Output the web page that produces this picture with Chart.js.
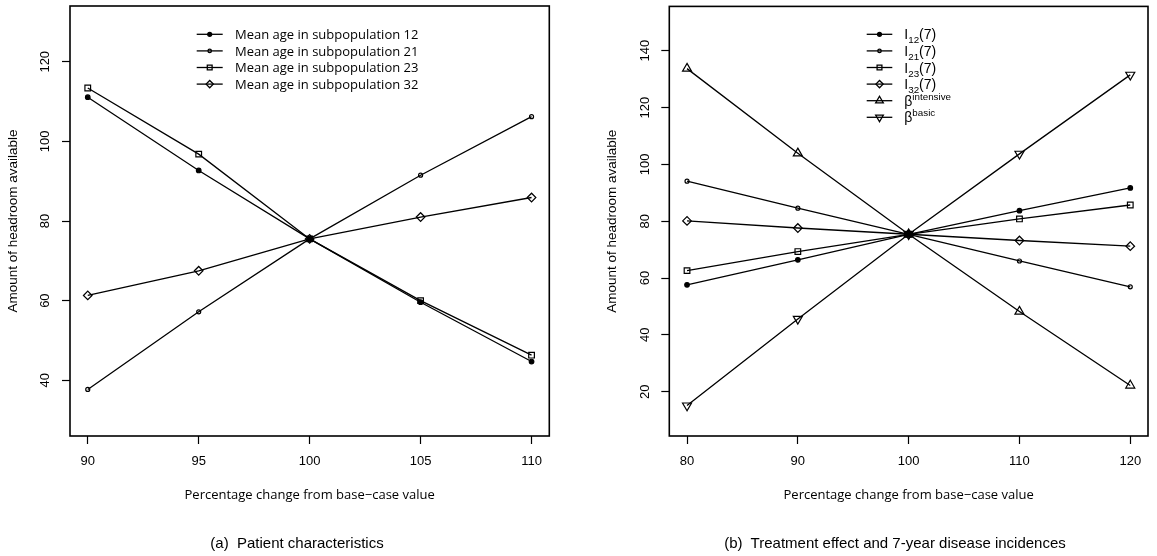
<!DOCTYPE html>
<html>
<head>
<meta charset="utf-8">
<title>Headroom sensitivity</title>
<script src="https://cdn.jsdelivr.net/npm/chart.js@4/dist/chart.umd.min.js"></script>
<style>
  body { margin: 0; background: #fff; width: 1157px; height: 556px; position: relative; overflow: hidden; }
  .panel { position: absolute; top: 0; height: 556px; }
  #wrapA { left: 0; width: 575px; }
  #wrapB { left: 578px; width: 579px; }
  .caption { position: absolute; top: 534px; line-height: 18px; font: 15px "Liberation Sans", Arial, sans-serif;
             color: #000; white-space: pre; transform: translateX(-50%); }
</style>
</head>
<body>
<div class="panel" id="wrapA"><canvas id="chartA" width="575" height="556"></canvas></div>
<div class="panel" id="wrapB"><canvas id="chartB" width="579" height="556"></canvas></div>
<div class="caption" style="left:297px">(a)  Patient characteristics</div>
<div class="caption" style="left:895px">(b)  Treatment effect and 7-year disease incidences</div>
<script>
// (a) patient characteristics
const pctA = [90, 95, 100, 105, 110];
const age12 = [111.1, 92.7, 75.5, 59.6, 44.7];
const age21 = [37.7, 57.2, 75.5, 91.5, 106.2];
const age23 = [113.4, 96.8, 75.5, 60.0, 46.3];
const age32 = [61.3, 67.5, 75.5, 81.0, 85.9];
const namesA = ['Mean age in subpopulation 12', 'Mean age in subpopulation 21',
                'Mean age in subpopulation 23', 'Mean age in subpopulation 32'];
const yTicksA = [40, 60, 80, 100, 120];
const ylimA = [30, 130];

// (b) treatment effect and 7-year incidences
const pctB = [80, 90, 100, 110, 120];
const inc12 = [57.6, 66.4, 75.4, 83.7, 91.7];
const inc21 = [94.1, 84.6, 75.4, 66.0, 56.9];
const inc23 = [62.6, 69.3, 75.4, 80.8, 85.7];
const inc32 = [80.1, 77.6, 75.4, 73.2, 71.2];
const betaInt = [133.7, 103.9, 75.4, 48.2, 22.2];
const betaBasic = [15.1, 45.6, 75.4, 103.7, 131.5];
const namesB = ['I_{12}(7)', 'I_{21}(7)', 'I_{23}(7)', 'I_{32}(7)', 'β^{intensive}', 'β^{basic}'];
const yTicksB = [20, 40, 60, 80, 100, 120, 140];
const ylimB = [10, 150];

const xTitle = 'Percentage change from base\u2212case value';
const yTitle = 'Amount of headroom available';

// plotting symbols, roughly like R's pch 20, 1, 0, 5, 2, 6
const symbols = [
  { pointStyle: 'circle', pointRadius: 2.3, pointBackgroundColor: '#000' },
  { pointStyle: 'circle', pointRadius: 2.0, pointBackgroundColor: 'rgba(0,0,0,0)' },
  { pointStyle: 'rect', pointRadius: 4.0, pointBackgroundColor: 'rgba(0,0,0,0)' },
  { pointStyle: 'rectRot', pointRadius: 4.3, pointBackgroundColor: 'rgba(0,0,0,0)' },
  { pointStyle: 'triangle', pointRadius: 5.2, pointBackgroundColor: 'rgba(0,0,0,0)' },
  { pointStyle: 'triangle', pointRadius: 5.2, pointRotation: 180, pointBackgroundColor: 'rgba(0,0,0,0)' }
];

// R-style axis range: 4% added on both sides
function extend(lo, hi) {
  const d = (hi - lo) * 0.04;
  return [lo - d, hi + d];
}

function parseLabel(s) {
  const parts = [];
  const re = /([_^])\{([^}]*)\}/g;
  let last = 0, m;
  while ((m = re.exec(s))) {
    if (m.index > last) parts.push({ t: s.slice(last, m.index), k: '' });
    parts.push({ t: m[2], k: m[1] });
    last = re.lastIndex;
  }
  if (last < s.length) parts.push({ t: s.slice(last), k: '' });
  return parts;
}

const boxPlugin = {
  id: 'plotBox',
  afterDraw(chart) {
    const { ctx, chartArea: a } = chart;
    ctx.save();
    ctx.strokeStyle = '#000';
    ctx.lineWidth = 1.6;
    ctx.strokeRect(a.left, a.top, a.right - a.left, a.bottom - a.top);
    ctx.restore();
  }
};

const keyPlugin = {
  id: 'lineKey',
  afterDraw(chart, args, o) {
    const ctx = chart.ctx;
    chart.data.datasets.forEach((ds, i) => {
      const y = o.y0 + i * o.dy;
      ctx.save();
      ctx.strokeStyle = '#000';
      ctx.lineWidth = 1.3;
      ctx.beginPath();
      ctx.moveTo(o.x0, y);
      ctx.lineTo(o.x0 + o.len, y);
      ctx.stroke();
      ctx.fillStyle = ds.pointBackgroundColor;
      Chart.helpers.drawPoint(ctx, {
        pointStyle: ds.pointStyle, rotation: ds.pointRotation || 0,
        radius: ds.pointRadius * 0.85, borderWidth: 1.2
      }, o.x0 + o.len / 2, y);

      ctx.fillStyle = '#000';
      ctx.textBaseline = 'alphabetic';
      let x = o.tx;
      const base = y + o.size * 0.36;
      parseLabel(ds.label).forEach(p => {
        const sz = p.k ? o.size * 0.7 : o.size;
        ctx.font = sz + 'px ' + o.family;
        const dy = p.k === '_' ? 4 : (p.k === '^' ? -6 : 0);
        ctx.fillText(p.t, x, base + dy);
        x += ctx.measureText(p.t).width;
      });
      ctx.restore();
    });
  }
};

function makeChart(id, xs, series, names, xTicks, yTicks, ylim, g) {
  const xr = extend(xs[0], xs[xs.length - 1]);
  const yr = extend(ylim[0], ylim[1]);
  const datasets = series.map((vals, i) => Object.assign({
    label: names[i],
    data: vals.map((v, j) => ({ x: xs[j], y: v })),
    borderColor: '#000',
    borderWidth: 1.3,
    pointBorderColor: '#000',
    pointBorderWidth: 1.2,
    tension: 0
  }, symbols[i]));

  return new Chart(document.getElementById(id), {
    type: 'line',
    data: { datasets },
    options: {
      responsive: false,
      animation: false,
      events: [],
      layout: { padding: { top: 6, right: g.padRight, left: 0, bottom: 0 } },
      plugins: {
        legend: { display: false },
        tooltip: { enabled: false },
        lineKey: g.key
      },
      scales: {
        x: {
          type: 'linear', min: xr[0], max: xr[1],
          afterBuildTicks: s => { s.ticks = xTicks.map(v => ({ value: v })); },
          afterFit: s => { s.height = 120; s.paddingLeft = 0; s.paddingRight = 0; },
          grid: { drawOnChartArea: false, tickLength: 8, color: '#000', tickWidth: 1.2 },
          border: { display: false },
          ticks: { color: '#000', padding: 10, maxRotation: 0, autoSkip: false,
                   font: { family: 'Liberation Sans', size: 13 } },
          title: { display: true, text: xTitle, color: '#000',
                   font: { family: 'Open Sans', size: 13 }, padding: { top: 0, bottom: 52.5 } }
        },
        y: {
          type: 'linear', min: yr[0], max: yr[1],
          afterBuildTicks: s => { s.ticks = yTicks.map(v => ({ value: v })); },
          afterFit: s => { s.width = g.yWidth; s.paddingTop = 0; s.paddingBottom = 0; },
          grid: { drawOnChartArea: false, tickLength: 8, color: '#000', tickWidth: 1.2 },
          border: { display: false },
          ticks: { color: '#000', padding: 5.5, minRotation: 90, maxRotation: 90, crossAlign: 'center',
                   autoSkip: false, font: { family: 'Liberation Sans', size: 13 } },
          title: { display: true, text: yTitle, color: '#000',
                   font: { family: 'Liberation Sans', size: 13.5 }, padding: { top: g.yTitlePad, bottom: 0 } }
        }
      }
    },
    plugins: [boxPlugin, keyPlugin]
  });
}

makeChart('chartA', pctA, [age12, age21, age23, age32], namesA, pctA, yTicksA, ylimA, {
  padRight: 25.7, yWidth: 70, yTitlePad: 4.9,
  key: { x0: 196.7, len: 26, tx: 235, y0: 34.3, dy: 16.6, size: 13, family: '"Open Sans"' }
});

makeChart('chartB', pctB, [inc12, inc21, inc23, inc32, betaInt, betaBasic], namesB, pctB, yTicksB, ylimB, {
  padRight: 9, yWidth: 91.3, yTitlePad: 25.9,
  key: { x0: 288.7, len: 25.6, tx: 326.3, y0: 34.3, dy: 16.6, size: 14, family: '"Liberation Sans"' }
});
</script>
</body>
</html>
